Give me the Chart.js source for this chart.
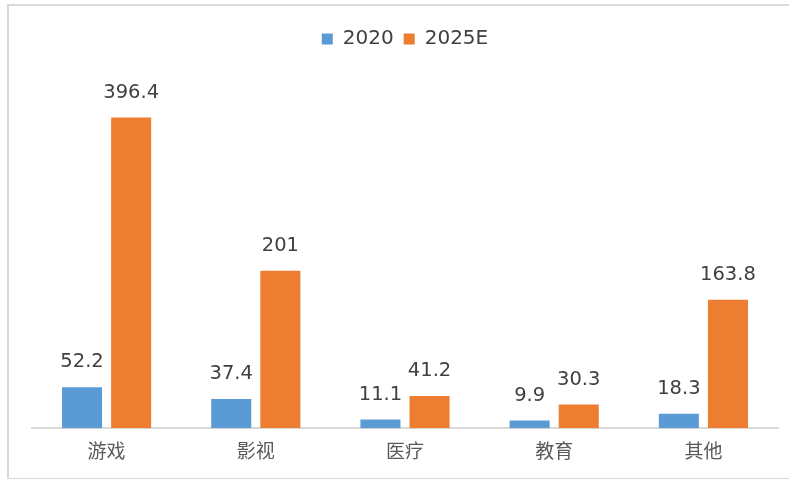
<!DOCTYPE html>
<html>
<head>
<meta charset="utf-8">
<script src="https://cdn.jsdelivr.net/npm/chart.js@4.4.0/dist/chart.umd.min.js"></script>
<style>
  html, body { margin: 0; padding: 0; background: #fff; overflow: hidden; }
  #frame { position: absolute; left: 7px; top: 4px; width: 820px; height: 472px; border: 2px solid #d9d9d9; }
  #myChart { position: absolute; left: 0; top: 0; }
</style>
</head>
<body>
<div id="frame"></div>
<canvas id="myChart" width="789" height="479"></canvas>
<script>
const categorias = ['游戏', '影视', '医疗', '教育', '其他'];
const serie2020 = [52.2, 37.4, 11.1, 9.9, 18.3];
const serie2025E = [396.4, 201, 41.2, 30.3, 163.8];
const etiquetas = ['2020', '2025E'];

// dibuja el valor encima de cada barra
const etiquetasValor = {
    id: 'etiquetasValor',
    afterDatasetsDraw(chart) {
        const ctx = chart.ctx;
        ctx.save();
        ctx.font = '19.5px "DejaVu Sans"';
        ctx.fillStyle = '#404040';
        ctx.textAlign = 'center';
        ctx.textBaseline = 'middle';
        chart.data.datasets.forEach((ds, i) => {
            chart.getDatasetMeta(i).data.forEach((bar, j) => {
                ctx.fillText(String(ds.data[j]), bar.x, bar.y - 25);
            });
        });
        ctx.restore();
    }
};

const data = {
    labels: categorias,
    datasets: [{
        label: etiquetas[0],
        data: serie2020,
        backgroundColor: '#5B9BD5',
        categoryPercentage: 0.658,
        barPercentage: 0.816
    }, {
        label: etiquetas[1],
        data: serie2025E,
        backgroundColor: '#ED7D31',
        categoryPercentage: 0.658,
        barPercentage: 0.816
    }]
};

const config = {
    type: 'bar',
    data: data,
    plugins: [etiquetasValor],
    options: {
        responsive: false,
        animation: false,
        layout: { padding: { left: 32, right: 11, top: 19, bottom: 6 } },
        plugins: {
            legend: {
                position: 'top',
                labels: {
                    boxWidth: 11,
                    boxHeight: 11,
                    padding: 10,
                    color: '#404040',
                    font: { family: '"DejaVu Sans"', size: 20 }
                }
            },
            tooltip: { enabled: false }
        },
        scales: {
            x: {
                grid: { display: false, drawTicks: false },
                border: { display: true, color: '#d9d9d9', width: 2 },
                ticks: {
                    padding: 11,
                    color: '#595959',
                    font: { family: '"Noto Sans CJK SC"', size: 19 }
                }
            },
            y: {
                display: false,
                min: 0,
                max: 471
            }
        }
    }
};

const myChart = new Chart(document.getElementById('myChart'), config);
</script>
</body>
</html>
